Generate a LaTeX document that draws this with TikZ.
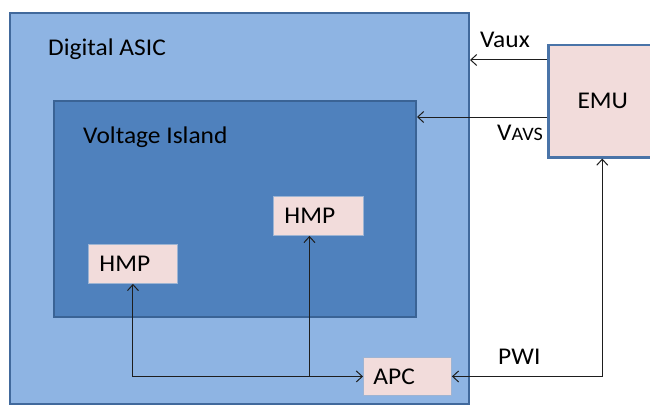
\documentclass[tikz,border=0pt]{standalone}
\usepackage{fontspec}
\setmainfont{Carlito}[FakeStretch=1.06]
\usetikzlibrary{arrows.meta}
\definecolor{outerfill}{HTML}{8EB4E3}
\definecolor{outerline}{HTML}{41699C}
\definecolor{innerfill}{HTML}{4F81BD}
\definecolor{innerline}{HTML}{3A6395}
\definecolor{pinkfill}{HTML}{F2DCDB}
\definecolor{pinkline}{HTML}{9DB4D3}
\definecolor{emuline}{HTML}{4A74A8}
\definecolor{wire}{HTML}{1E1E1E}
\begin{document}
\begin{tikzpicture}[x=1pt,y=-1pt,
  region/.style={draw, rectangle, anchor=north west, inner sep=0pt},
  pinkbox/.style={rectangle, fill=pinkfill, draw=pinkline, line width=0.9pt, anchor=north west, inner ysep=0pt, inner xsep=11pt, align=left, font=\fontsize{24}{28}\selectfont},
  lbl/.style={inner sep=0pt, anchor=base west, font=\fontsize{24}{28}\selectfont},
  wirestyle/.style={draw=wire, line width=1pt},
  tipA/.tip={Straight Barb[length=6pt,width=11pt,line width=1pt]}
]
\useasboundingbox[fill=white] (0,0) rectangle (650,404);
\clip (0,0) rectangle (650,404);
% regions
\node[region, fill=outerfill, draw=outerline, line width=2pt, minimum width=459pt, minimum height=391pt] (asic) at (9,12) {};
\node[region, fill=innerfill, draw=innerline, line width=2pt, minimum width=362pt, minimum height=216pt] (island) at (53,100) {};
\node[region, fill=pinkfill, draw=emuline, line width=2.5pt, minimum width=116pt, minimum height=112pt, font=\fontsize{24}{28}\selectfont] (emu) at (547,44) {\hspace*{-7pt}EMU};
% titles
\node[lbl] (tasic) at (48,56) {Digital ASIC};
\node[lbl] (tisland) at (83,143) {Voltage Island};
% small boxes
\node[pinkbox, text width=67pt, minimum height=39pt] (hmpa) at (88,244) {HMP};
\node[pinkbox, text width=68pt, minimum height=39pt] (hmpb) at (273,196) {HMP};
\node[pinkbox, inner xsep=10pt, text width=68pt, minimum height=38pt] (apc) at (363,357) {APC};
% labels
\node[lbl] (vaux) at (480,48) {Vaux};
\node[lbl] (vavs) at (497,140) {V{\fontsize{19}{22}\selectfont AVS}};
\node[lbl] (pwi) at (498,364) {PWI};
% connectors
\coordinate (jct) at ([xshift=-9pt]hmpb.south |- apc.west);
\coordinate (emuin) at ([xshift=-4pt]emu.south);
\draw[wirestyle, -{tipA}] (emu.west |- 0,60) -- (asic.east |- 0,60);
\draw[wirestyle, -{tipA}] (emu.west |- 0,117) -- (island.east |- 0,117);
\draw[wirestyle, {tipA}-{tipA}] (apc.east) -- (emuin |- apc.east) -- (emuin);
\draw[wirestyle, {tipA}-{tipA}] (hmpa.south) -- (hmpa.south |- apc.west) -- (apc.west);
\draw[wirestyle, -{tipA}] (jct) -- ([xshift=-9pt]hmpb.south);
\end{tikzpicture}
\end{document}
